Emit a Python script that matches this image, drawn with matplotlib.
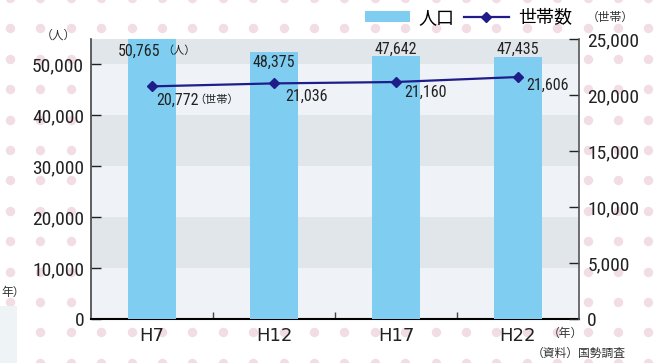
import numpy as np
import matplotlib
matplotlib.use('Agg')
import matplotlib.pyplot as plt
from matplotlib import font_manager
from matplotlib.patches import Patch, Rectangle
from matplotlib.lines import Line2D

# 細めの数字フォントがあれば使う
installed = {f.name for f in font_manager.fontManager.ttflist}
narrow = [n for n in ['Liberation Sans Narrow', 'Roboto Condensed', 'Open Sans Condensed',
                      'DejaVu Sans Condensed'] if n in installed]
plt.rcParams['font.family'] = narrow + ['Noto Sans CJK JP', 'DejaVu Sans']

# データ
years = ['H7', 'H12', 'H17', 'H22']
population = [50765, 48375, 47642, 47435]
households = [20772, 21036, 21160, 21606]
pop_ticks = [0, 10000, 20000, 30000, 40000, 50000]
hh_ticks = [0, 5000, 10000, 15000, 20000, 25000]

bar_color = '#7fcef1'
line_color = '#1f1d8a'
band_light = '#eff3f7'
band_dark = '#e1e6ea'
jp = ['Noto Sans CJK JP', 'DejaVu Sans']

W, H = 659, 363
fig = plt.figure(figsize=(W / 100, H / 100), dpi=100)

# 背景のドット模様
bg = fig.add_axes([0, 0, 1, 1], zorder=-10)
bg.set_xlim(0, W)
bg.set_ylim(H, 0)
bg.axis('off')
gx, gy = np.meshgrid(np.arange(10, W + 10, 30.4), np.arange(-2, H + 10, 30.4))
bg.scatter(gx.ravel(), gy.ravel(), s=46, color='#f2dde5', linewidths=0)
bg.add_patch(Rectangle((0, 306), 17, 60, color='#eef3f6', lw=0))
bg.text(1, 292, '年）', ha='left', va='center', fontsize=8.5, family=jp, color='#333333')

# 左軸（人口）
ax = fig.add_axes([91 / W, 44 / H, 488 / W, 280 / H])
ax.set_xlim(-0.5, 3.5)
ax.set_ylim(0, 55000)
for i, lo in enumerate(range(0, 55000, 10000)):
    ax.axhspan(lo, lo + 10000, color=band_light if i % 2 == 0 else band_dark, lw=0, zorder=0)
ax.set_yticks(pop_ticks)
ax.set_yticklabels([f'{v:,}' for v in pop_ticks])
ax.tick_params(axis='y', direction='in', length=7, width=1, pad=5, labelsize=14, colors='#222222')
ax.set_xticks(range(len(years)))
ax.set_xticklabels(years, family=['DejaVu Sans'], fontsize=13)
ax.tick_params(axis='x', length=0, pad=6, colors='#222222')
ax.set_xticks([0.5, 1.5, 2.5], minor=True)
ax.tick_params(axis='x', which='minor', direction='in', length=5, width=1, color='#444444')
ax.spines['top'].set_visible(False)
ax.spines['right'].set_visible(False)
ax.spines['left'].set_color('#444444')
ax.spines['left'].set_linewidth(1.2)
ax.spines['bottom'].set_color('black')
ax.spines['bottom'].set_linewidth(1.5)

# 棒グラフ（人口）
axb = ax.twinx()
axb.set_ylim(0, 50765)
axb.axis('off')
x = np.arange(len(years))
axb.bar(x, population, width=0.4, color=bar_color, zorder=2)
bar_offsets = [-9, -7.5, 5, 5.5]
for i, v in enumerate(population):
    if i == 0:
        axb.annotate(f'{v:,}', (x[i], v), xytext=(6, bar_offsets[i]), textcoords='offset points',
                     ha='right', va='center', fontsize=11.5, color='#222222')
        axb.annotate('（人）', (x[i], v), xytext=(7.5, bar_offsets[i] + 0.5), textcoords='offset points',
                     ha='left', va='center', fontsize=8, family=jp, color='#222222')
    else:
        axb.annotate(f'{v:,}', (x[i], v), xytext=(0, bar_offsets[i]), textcoords='offset points',
                     ha='center', va='center', fontsize=11.5, color='#222222')

# 右軸（世帯数）
ax2 = ax.twinx()
ax2.set_ylim(0, 25000)
ax2.plot(x, households, color=line_color, lw=1.6, marker='D', ms=5.5, zorder=5)
ax2.set_yticks(hh_ticks)
ax2.set_yticklabels([f'{v:,}' for v in hh_ticks])
ax2.tick_params(axis='y', direction='in', length=7, width=1, pad=6, labelsize=14, colors='#222222')
for s in ['top', 'left', 'bottom']:
    ax2.spines[s].set_visible(False)
ax2.spines['right'].set_color('#555555')
ax2.spines['right'].set_linewidth(1.2)
hh_offsets = [(3, -10), (8, -9), (6, -7.5), (6, -6)]
for i, v in enumerate(households):
    ax2.annotate(f'{v:,}', (x[i], v), xytext=hh_offsets[i], textcoords='offset points',
                 ha='left', va='center', fontsize=11.5, color='#222222')
ax2.annotate('（世帯）', (x[0], households[0]), xytext=(30.5, -9.5), textcoords='offset points',
             ha='left', va='center', fontsize=8, family=jp, color='#222222')

# 凡例
handles = [Patch(facecolor=bar_color, edgecolor='none'),
           Line2D([], [], color=line_color, lw=1.6, marker='D', ms=5.5)]
fig.legend(handles, ['人口', '世帯数'], loc='center right', bbox_to_anchor=(572 / W, 1 - 18 / H),
           ncol=2, frameon=False, prop={'family': jp, 'size': 13},
           handlelength=2.5, handleheight=0.6, handletextpad=0.5, columnspacing=0.5,
           borderpad=0, borderaxespad=0)

# 単位・出典
fig.text(58 / W, 1 - 35 / H, '（人）', ha='center', va='center', fontsize=8.5, family=jp, color='#333333')
fig.text(610 / W, 1 - 17 / H, '（世帯）', ha='center', va='center', fontsize=8.5, family=jp, color='#333333')
fig.text(565 / W, 1 - 333 / H, '（年）', ha='center', va='center', fontsize=8.5, family=jp, color='#333333')
fig.text(626 / W, 1 - 353 / H, '（資料）国勢調査', ha='right', va='center', fontsize=8.5,
         family=jp, color='#333333')

fig.savefig('out.png', dpi=100, facecolor='white')
